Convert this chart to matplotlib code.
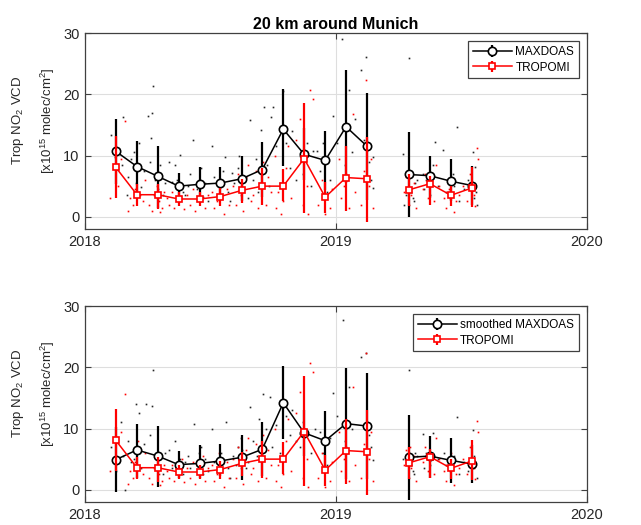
import matplotlib
matplotlib.use("Agg")
import matplotlib.pyplot as plt
import numpy as np

plt.rcParams['font.family'] = ['Liberation Sans', 'DejaVu Sans']
plt.rcParams['font.size'] = 9
plt.rcParams['mathtext.fontset'] = 'custom'
plt.rcParams['mathtext.rm'] = 'Liberation Sans'

# monthly means (decimal year, NaN = no data -> gap in line)
month_x = [2018.122, 2018.207, 2018.290, 2018.373, 2018.457, 2018.539, 2018.624,
           2018.706, 2018.790, 2018.873, 2018.957, 2019.040, 2019.124,
           2019.207, 2019.291, 2019.374, 2019.458, 2019.541]
nan = np.nan

maxdoas = [10.7, 8.2, 6.6, 5.0, 5.3, 5.5, 6.2, 7.7, 14.3, 10.2, 9.2, 14.7, 11.5,
           nan, 6.9, 6.7, 5.8, 5.1]
maxdoas_lo = [5.3, 4.0, 1.5, 2.8, 2.4, 2.8, 2.5, 3.2, 8.3, 6.0, 4.4, 5.5, 2.8,
              nan, 0.0, 3.1, 2.5, 2.0]
maxdoas_hi = [16.0, 12.4, 11.5, 7.2, 8.2, 8.2, 9.9, 12.2, 20.8, 14.5, 14.0, 23.9, 20.2,
              nan, 13.8, 10.0, 9.4, 8.3]

smoothed = [4.9, 6.5, 5.5, 4.1, 4.3, 4.7, 5.3, 6.6, 14.2, 9.3, 8.0, 10.8, 10.4,
            nan, 5.3, 5.5, 4.8, 4.2]
smoothed_lo = [-0.4, 2.0, 0.5, 1.9, 1.9, 2.2, 1.6, 2.2, 8.3, 5.5, 3.2, 1.7, 1.8,
               nan, -1.7, 1.9, 1.1, 1.1]
smoothed_hi = [10.2, 10.7, 10.4, 6.3, 7.3, 7.4, 8.9, 11.1, 20.2, 13.0, 12.9, 19.9, 19.0,
               nan, 12.2, 8.7, 8.5, 7.3]

tropomi = [8.1, 3.6, 3.6, 2.9, 2.9, 3.3, 4.3, 5.0, 5.0, 9.5, 3.2, 6.4, 6.2,
           nan, 4.4, 5.4, 3.5, 4.7]
tropomi_lo = [3.1, 1.8, 1.3, 1.8, 1.8, 1.8, 2.3, 2.0, 2.5, 0.6, 0.6, 1.0, -0.8,
              nan, 1.8, 1.9, 1.8, 1.6]
tropomi_hi = [13.2, 5.3, 5.3, 4.0, 4.0, 4.7, 6.2, 7.9, 7.8, 18.6, 5.7, 11.6, 13.1,
              nan, 7.0, 6.6, 5.0, 8.1]

# individual daily values (year fraction offset from 2018, value)
maxdoas_dot_x = [0.102, 0.153, 0.118, 0.135, 0.148,
                 0.172, 0.185, 0.195, 0.205, 0.215, 0.225, 0.235, 0.168,
                 0.252, 0.265, 0.272, 0.262, 0.280, 0.290, 0.300, 0.310, 0.320, 0.258,
                 0.335, 0.345, 0.358, 0.378, 0.390, 0.400, 0.368, 0.410,
                 0.420, 0.431, 0.445, 0.455, 0.470, 0.480, 0.490, 0.462,
                 0.505, 0.515, 0.525, 0.540, 0.550, 0.559, 0.570, 0.578,
                 0.584, 0.595, 0.610, 0.625, 0.640, 0.657, 0.650, 0.615,
                 0.670, 0.680, 0.690, 0.701, 0.713, 0.725, 0.740, 0.750, 0.735,
                 0.760, 0.775, 0.790, 0.800, 0.815, 0.825,
                 0.840, 0.855, 0.870, 0.885, 0.900, 0.910, 0.925,
                 0.935, 0.950, 0.965, 0.975, 0.989, 0.960,
                 1.002, 1.022, 1.053, 1.035, 1.045, 1.065, 1.075,
                 1.100, 1.119, 1.130, 1.149, 1.149, 1.110, 1.140,
                 1.265, 1.292, 1.300, 1.305, 1.310, 1.315, 1.280, 1.322, 1.270,
                 1.345, 1.360, 1.375, 1.394, 1.405, 1.385, 1.350,
                 1.428, 1.440, 1.455, 1.470, 1.481, 1.490, 1.465,
                 1.510, 1.525, 1.545, 1.554, 1.550, 1.560, 1.535, 1.558]
maxdoas_dot_y = [13.4, 16.3, 9.8, 11.0, 8.5,
                 6.5, 9.5, 10.5, 5.5, 12.0, 4.8, 7.5, 3.6,
                 16.5, 16.9, 21.3, 12.8, 6.0, 4.5, 8.5, 3.5, 5.5, 9.0,
                 8.9, 5.6, 8.5, 10.1, 4.0, 3.5, 6.0, 5.0,
                 7.0, 12.5, 4.5, 6.0, 3.2, 5.5, 2.5, 8.0,
                 11.5, 6.5, 3.5, 5.0, 7.5, 9.8, 4.0, 2.5,
                 7.1, 5.5, 8.0, 4.5, 6.5, 15.8, 3.0, 10.0,
                 6.0, 9.5, 4.0, 14.2, 17.9, 8.5, 16.3, 17.9, 5.0,
                 11.5, 5.5, 20.6, 12.0, 8.0, 14.0,
                 6.0, 10.0, 7.0, 12.0, 5.0, 10.8, 10.8,
                 7.5, 12.0, 4.0, 6.0, 16.4, 9.0,
                 12.0, 29.1, 20.7, 8.5, 6.0, 10.5, 16.0,
                 23.9, 26.1, 9.0, 9.8, 4.7, 12.5, 6.0,
                 10.2, 26.0, 4.0, 3.0, 2.5, 5.5, 3.5, 6.0, 2.0,
                 7.0, 6.0, 3.5, 12.2, 5.0, 8.5, 4.5,
                 10.9, 4.0, 3.0, 5.0, 14.6, 2.5, 7.0,
                 4.5, 6.0, 10.5, 8.1, 3.0, 2.0, 5.5, 4.0]

smoothed_dot_x = [0.105, 0.142, 0.159, 0.125, 0.150,
                  0.172, 0.185, 0.195, 0.205, 0.215, 0.225, 0.235, 0.243,
                  0.266, 0.272, 0.258, 0.280, 0.290, 0.300, 0.310, 0.320,
                  0.335, 0.345, 0.358, 0.378, 0.390, 0.400, 0.368, 0.410,
                  0.420, 0.435, 0.445, 0.455, 0.470, 0.480, 0.490, 0.462,
                  0.504, 0.515, 0.525, 0.540, 0.550, 0.560, 0.570, 0.578,
                  0.590, 0.600, 0.610, 0.625, 0.640, 0.657, 0.650, 0.620,
                  0.670, 0.685, 0.695, 0.710, 0.720, 0.737, 0.745,
                  0.760, 0.775, 0.800, 0.815, 0.825,
                  0.840, 0.855, 0.870, 0.885, 0.900, 0.915,
                  0.935, 0.950, 0.965, 0.975, 0.989,
                  1.005, 1.029, 1.053, 1.035, 1.045, 1.065,
                  1.100, 1.119, 1.130, 1.149, 1.140,
                  1.265, 1.292, 1.300, 1.305, 1.310, 1.315, 1.280, 1.322,
                  1.348, 1.360, 1.375, 1.388, 1.405, 1.350,
                  1.430, 1.440, 1.455, 1.470, 1.481, 1.490,
                  1.510, 1.525, 1.547, 1.550, 1.560, 1.535]
smoothed_dot_y = [7.0, 11.0, 0.0, 3.0, 5.5,
                  8.0, 4.5, 5.0, 14.0, 12.5, 3.5, 7.5, 14.0,
                  13.6, 19.5, 9.0, 4.0, 3.0, 5.5, 2.5, 6.0,
                  6.5, 3.5, 8.0, 5.0, 2.5, 4.5, 3.0, 5.5,
                  3.5, 10.7, 4.0, 6.0, 2.5, 5.0, 3.0, 7.0,
                  9.9, 4.5, 3.0, 6.0, 5.0, 11.0, 3.5, 2.0,
                  5.5, 4.0, 7.0, 6.5, 3.5, 13.5, 4.5, 8.5,
                  8.0, 5.5, 11.5, 15.7, 10.0, 15.2, 7.0,
                  10.5, 6.0, 12.0, 9.0, 13.0,
                  8.0, 7.0, 11.0, 9.5, 6.0, 10.0,
                  9.5, 6.0, 4.0, 8.5, 15.8,
                  12.0, 27.7, 16.8, 8.0, 6.0, 10.0,
                  21.6, 22.3, 9.0, 4.9, 7.0,
                  5.0, 19.5, 4.0, 3.0, 2.5, 6.0, 4.5, 5.5,
                  9.1, 6.0, 4.0, 9.2, 5.0, 3.5,
                  6.0, 4.0, 3.0, 5.5, 11.8, 2.5,
                  4.5, 3.0, 9.8, 5.5, 2.0, 4.0]

tropomi_dot_x = [0.100, 0.158, 0.130, 0.145,
                 0.170, 0.180, 0.190, 0.200, 0.210, 0.220, 0.232, 0.240,
                 0.255, 0.265, 0.275, 0.285, 0.295, 0.305, 0.315, 0.325, 0.300,
                 0.335, 0.345, 0.355, 0.365, 0.375, 0.385, 0.395, 0.405,
                 0.420, 0.430, 0.440, 0.450, 0.460, 0.470, 0.480, 0.490,
                 0.505, 0.515, 0.525, 0.535, 0.545, 0.555, 0.565, 0.575,
                 0.590, 0.600, 0.610, 0.620, 0.630, 0.640, 0.650, 0.660,
                 0.670, 0.680, 0.690, 0.700, 0.710, 0.720, 0.730, 0.740, 0.757,
                 0.760, 0.770, 0.780, 0.790, 0.800, 0.810, 0.820,
                 0.840, 0.855, 0.870, 0.885, 0.896, 0.909, 0.890,
                 0.930, 0.945, 0.955, 0.965, 0.975, 0.985,
                 1.010, 1.020, 1.030, 1.040, 1.050, 1.066, 1.075,
                 1.100, 1.110, 1.119, 1.130, 1.149, 1.140,
                 1.270, 1.280, 1.290, 1.300, 1.310, 1.320, 1.295,
                 1.345, 1.355, 1.365, 1.375, 1.390, 1.400, 1.410,
                 1.430, 1.440, 1.450, 1.460, 1.470, 1.480, 1.490,
                 1.505, 1.520, 1.535, 1.550, 1.560, 1.565, 1.555]
tropomi_dot_y = [3.0, 15.6, 5.0, 9.5,
                 1.0, 3.0, 2.0, 4.5, 8.0, 3.5, 2.5, 6.0,
                 2.0, 1.0, 3.5, 5.0, 2.5, 1.5, 4.0, 3.0, 0.8,
                 2.0, 4.0, 1.5, 3.0, 2.5, 5.0, 1.2, 3.5,
                 2.0, 4.5, 1.0, 3.0, 2.5, 5.5, 1.5, 3.5,
                 4.0, 1.5, 2.5, 6.0, 3.0, 0.5, 4.5, 2.0,
                 5.0, 2.0, 7.0, 3.5, 1.0, 6.5, 8.5, 2.5,
                 3.5, 7.5, 1.5, 5.5, 9.0, 2.0, 6.5, 4.0, 9.9,
                 1.5, 4.0, 0.5, 2.5, 8.0, 11.5, 3.0,
                 12.5, 16.0, 2.0, 5.0, 20.7, 19.3, 0.5,
                 2.0, 6.0, 0.5, 3.5, 1.5, 4.5,
                 9.5, 3.0, 5.0, 7.0, 1.5, 16.8, 4.0,
                 2.0, 7.5, 22.4, 5.0, 1.4, 9.5,
                 4.0, 6.5, 2.0, 3.5, 5.5, 1.5, 7.0,
                 4.5, 7.0, 3.0, 6.0, 2.5, 8.5, 5.0,
                 3.0, 1.5, 4.5, 6.0, 0.8, 2.5, 3.5,
                 5.0, 2.5, 7.0, 3.5, 11.3, 9.5, 1.8]

panels = [
    ("MAXDOAS", maxdoas, maxdoas_lo, maxdoas_hi, maxdoas_dot_x, maxdoas_dot_y),
    ("smoothed MAXDOAS", smoothed, smoothed_lo, smoothed_hi, smoothed_dot_x, smoothed_dot_y),
]

fig = plt.figure(figsize=(6.41, 5.25), dpi=100)
ax_top = fig.add_axes([0.1326, 0.5638, 0.7832, 0.3733])
ax_bot = fig.add_axes([0.1326, 0.0438, 0.7832, 0.3733])

x = np.array(month_x)
tx = 2018 + np.array(tropomi_dot_x)
t = np.array(tropomi)

for ax, (name, m, lo, hi, dx, dy) in zip([ax_top, ax_bot], panels):
    m = np.array(m)
    ax.plot(2018 + np.array(dx), dy, 's', color='0.15', ms=1.2, mew=0, zorder=2)
    ax.plot(tx, tropomi_dot_y, 's', color='red', ms=1.2, mew=0, zorder=2)

    yerr = [m - np.array(lo), np.array(hi) - m]
    ax.errorbar(x, m, yerr=yerr, color='black', lw=1.1, elinewidth=1.6, capsize=0,
                marker='o', ms=6, mfc='white', mec='black', mew=1.2,
                label=name, zorder=3)
    terr = [t - np.array(tropomi_lo), np.array(tropomi_hi) - t]
    ax.errorbar(x, t, yerr=terr, color='red', lw=1.1, elinewidth=1.6, capsize=0,
                marker='s', ms=4.5, mfc='white', mec='red', mew=1.2,
                label='TROPOMI', zorder=4)

    ax.set_xlim(2018, 2020)
    ax.set_ylim(-2, 30)
    ax.set_xticks([2018, 2019, 2020])
    ax.set_xticklabels(['2018', '2019', '2020'])
    ax.set_yticks([0, 10, 20, 30])
    ax.grid(True, color='0.87', lw=0.8)
    ax.set_axisbelow(True)
    ax.tick_params(direction='in', top=True, right=True, length=4,
                   color='0.25', labelcolor='0.15', labelsize=10.5, pad=4)
    for s in ax.spines.values():
        s.set_color('0.25')
        s.set_linewidth(0.9)

    # two-line y label
    ax.text(-0.133, 0.555, 'Trop NO$_2$ VCD', transform=ax.transAxes,
            rotation=90, ha='center', va='center', fontsize=9.5, color='0.15')
    ax.text(-0.074, 0.555, '[x10$^{15}$ molec/cm$^2$]', transform=ax.transAxes,
            rotation=90, ha='center', va='center', fontsize=9.5, color='0.15')

    leg = ax.legend(loc='upper right', fontsize=8.5, fancybox=False,
                    edgecolor='0.25', framealpha=1, handlelength=3.3,
                    handletextpad=0.3, borderaxespad=0.7, labelspacing=0.3,
                    borderpad=0.4)
    leg.get_frame().set_linewidth(0.9)

ax_top.set_title('20 km around Munich', fontsize=11.5, fontweight='bold', pad=3)

fig.savefig('out.png', dpi=100)
